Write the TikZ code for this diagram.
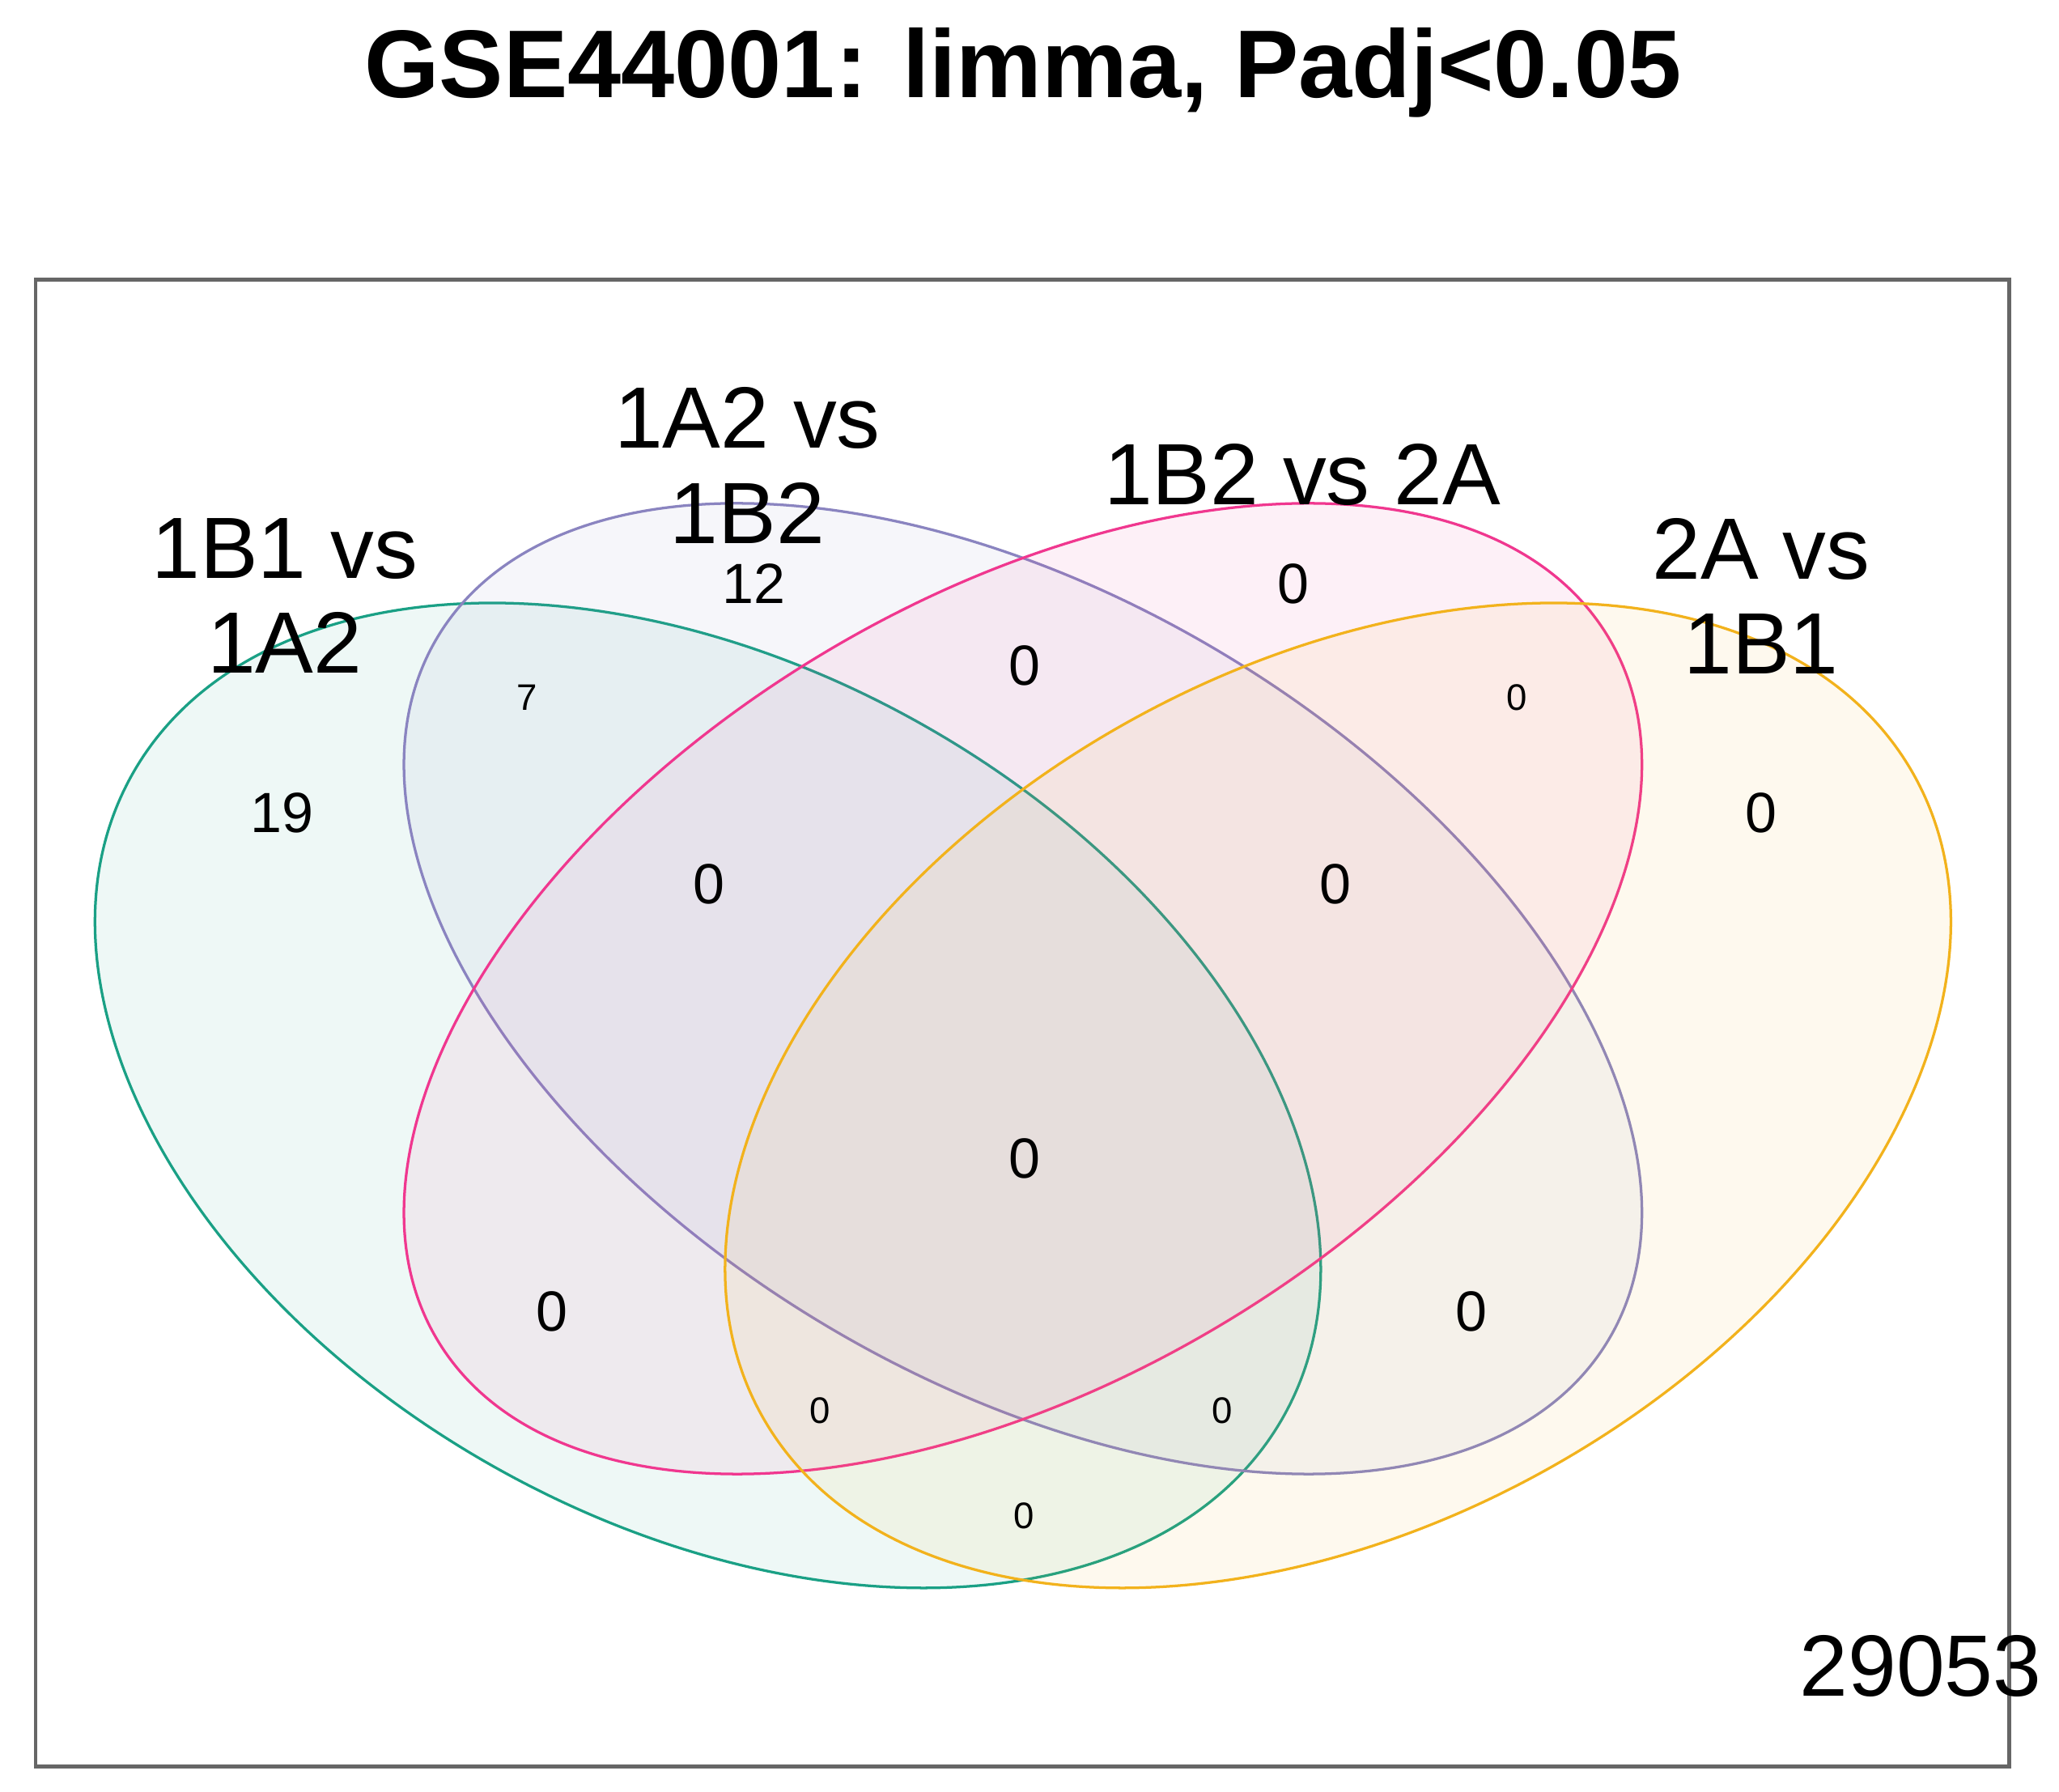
\documentclass[tikz,border=0pt]{standalone}
\usepackage{fontspec}
\setmainfont{Liberation Sans}
\begin{document}
\begin{tikzpicture}[x=1pt,y=1pt,
  ell/.style={line width=2pt,fill opacity=0.07},
  lab/.style={font=\fontsize{66}{72}\selectfont,align=center},
  big/.style={font=\fontsize{43}{48}\selectfont},
  sml/.style={font=\fontsize{28}{32}\selectfont}]
\useasboundingbox (0,0) rectangle (1562,1359);
\fill[white] (0,0) rectangle (1562,1359);
\node[font=\fontsize{73}{80}\selectfont\bfseries] (title) at (776,1304) {GSE44001: limma, Padj<0.05};
\draw[line width=3pt,gray!80!black] (27,19) rectangle (1524,1147);
\definecolor{cg}{HTML}{1AA085}\definecolor{cp}{HTML}{8A84C0}
\definecolor{cr}{HTML}{F0378F}\definecolor{cy}{HTML}{F2B21C}
\draw[ell,draw=cg,fill=cg] (537,528) ellipse[x radius=500,y radius=325,rotate=-29];
\draw[ell,draw=cp,fill=cp] (776,609) ellipse[x radius=518,y radius=296,rotate=-31];
\draw[ell,draw=cr,fill=cr] (776,609) ellipse[x radius=518,y radius=296,rotate=31];
\draw[ell,draw=cy,fill=cy] (1015,528) ellipse[x radius=500,y radius=325,rotate=29];
\node[lab] (l1) at (216,907) {1B1 vs\\1A2};
\node[lab] (l2) at (567,1006) {1A2 vs\\1B2};
\node[lab] (l3) at (988,999) {1B2 vs 2A};
\node[lab] (l4) at (1336,907) {2A vs\\1B1};
\node[big] at (214,742) {19};
\node[big] at (572,916) {12};
\node[big] at (981,916) {0};
\node[big] at (1336,742) {0};
\node[sml] at (400,830) {7};
\node[big] at (777,854) {0};
\node[sml] at (1151,830) {0};
\node[big] at (538,688) {0};
\node[big] at (1013,688) {0};
\node[big] at (777,480) {0};
\node[big] at (419,364) {0};
\node[big] at (1116,364) {0};
\node[sml] at (622,289) {0};
\node[sml] at (927,289) {0};
\node[sml] at (777,209) {0};
\node[font=\fontsize{66}{72}\selectfont] at (1457,95) {29053};
\end{tikzpicture}
\end{document}
